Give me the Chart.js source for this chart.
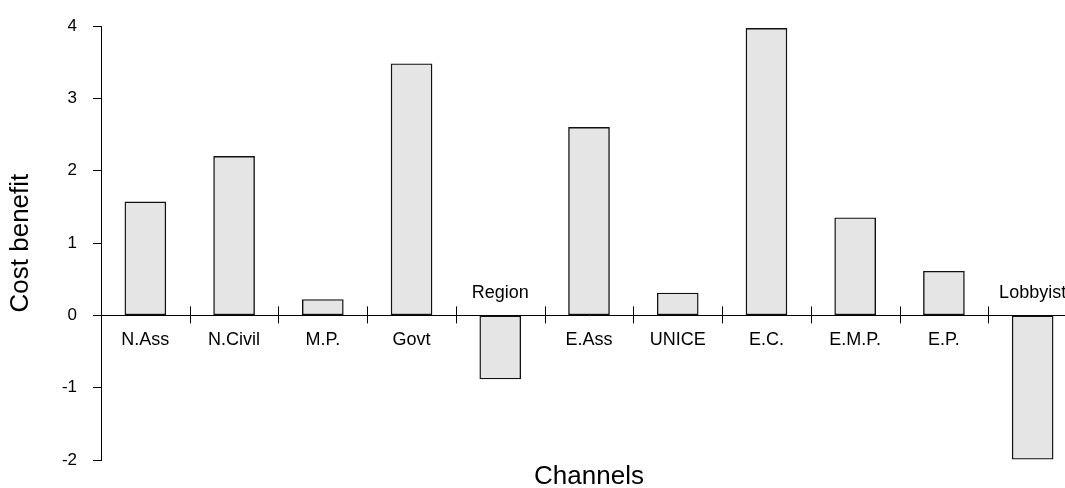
<!DOCTYPE html>
<html>
<head>
<meta charset="utf-8">
<script src="https://cdn.jsdelivr.net/npm/chart.js@4"></script>
<style>
  html, body { margin: 0; padding: 0; background: #fff; overflow: hidden; }
  #wrap { width: 1080px; height: 488px; }
</style>
</head>
<body>
<div id="wrap"><canvas id="c" width="1080" height="488"></canvas></div>
<script>
const categories = ['N.Ass', 'N.Civil', 'M.P.', 'Govt', 'Region', 'E.Ass', 'UNICE', 'E.C.', 'E.M.P.', 'E.P.', 'Lobbyist'];
const costBenefit = [1.57, 2.20, 0.22, 3.48, -0.88, 2.60, 0.31, 3.97, 1.35, 0.61, -1.99];
const yTicks = [-2, -1, 0, 1, 2, 3, 4];

const FONT = '"Liberation Sans", Arial, Helvetica, sans-serif';

const channelLabels = {
  id: 'channelLabels',
  afterDatasetsDraw(chart) {
    const { ctx, scales: { x, y } } = chart;
    const y0 = y.getPixelForValue(0);
    ctx.save();
    ctx.strokeStyle = '#000';
    ctx.lineWidth = 1;
    for (let i = 1; i < categories.length; i++) {
      const bx = Math.round((x.getPixelForValue(i - 1) + x.getPixelForValue(i)) / 2) + 0.5;
      ctx.beginPath();
      ctx.moveTo(bx, y0 - 9);
      ctx.lineTo(bx, y0 + 8);
      ctx.stroke();
    }
    ctx.fillStyle = '#000';
    ctx.font = '18px ' + FONT;
    ctx.textAlign = 'center';
    ctx.textBaseline = 'alphabetic';
    categories.forEach((c, i) => {
      const cx = x.getPixelForValue(i);
      ctx.fillText(c, cx, costBenefit[i] >= 0 ? y0 + 30 : y0 - 17);
    });
    ctx.restore();
  }
};

new Chart(document.getElementById('c'), {
  type: 'bar',
  data: {
    labels: categories,
    datasets: [{
      data: costBenefit,
      backgroundColor: '#e5e5e5',
      borderColor: '#111',
      borderWidth: 1.4,
      borderSkipped: false,
      barThickness: 41
    }]
  },
  options: {
    responsive: false,
    animation: false,
    devicePixelRatio: 1,
    layout: { padding: { top: 23, right: 3, bottom: 0, left: 0 } },
    plugins: { legend: { display: false }, tooltip: { enabled: false } },
    scales: {
      x: {
        offset: true,
        grid: { display: false, drawTicks: false },
        border: { display: false },
        ticks: { display: false },
        title: {
          display: true,
          text: 'Channels',
          color: '#000',
          font: { family: FONT, size: 26, lineHeight: 0.85 },
          padding: { top: 0, bottom: 0 }
        },
        afterFit(scale) { scale.height = 28; }
      },
      y: {
        min: -2,
        max: 4,
        afterBuildTicks(scale) { scale.ticks = yTicks.map(v => ({ value: v })); },
        ticks: {
          color: '#000',
          font: { family: FONT, size: 17 },
          padding: 16,
          callback: v => String(v)
        },
        grid: {
          color: ctx => (ctx.tick && ctx.tick.value === 0 ? '#000' : 'rgba(0,0,0,0)'),
          tickColor: '#000',
          tickLength: 8,
          lineWidth: 1
        },
        border: { display: true, color: '#000', width: 1 },
        title: {
          display: true,
          text: 'Cost benefit',
          color: '#000',
          font: { family: FONT, size: 26, lineHeight: 1.2 },
          padding: { top: 5, bottom: 0 }
        },
        afterFit(scale) { scale.width = 101; }
      }
    }
  },
  plugins: [channelLabels]
});
</script>
</body>
</html>
